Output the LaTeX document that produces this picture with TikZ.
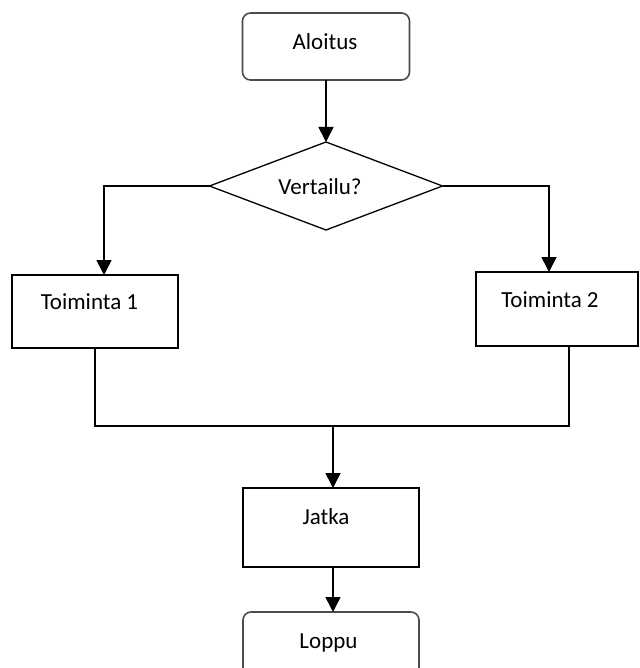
\documentclass[tikz,border=0pt]{standalone}
\usepackage{fontspec}
\setmainfont{Carlito}
\usetikzlibrary{shapes.geometric,arrows.meta}
\begin{document}
\begin{tikzpicture}[x=1pt,y=-1pt,
  every node/.style={inner sep=0pt,outer sep=0pt},
  txt/.style={font=\fontsize{23}{27}\selectfont,anchor=base},
  rbox/.style={draw=black!70,line width=1.6pt,rounded corners=8pt,rectangle},
  sbox/.style={draw=black,line width=1.6pt,rectangle},
  dbox/.style={draw=black,line width=1.3pt,diamond},
  conn/.style={draw=black,line width=1.6pt},
  arr/.style={conn,-{Triangle[width=15pt,length=15pt]}}]
\useasboundingbox (0,0) rectangle (639,668);
\clip (0,0) rectangle (639,668);
\fill[white] (0,0) rectangle (639,668);
% shapes
\node[rbox,minimum width=167pt,minimum height=67pt] (alo) at (326,46.5) {};
\node[dbox,minimum width=233pt,minimum height=88pt] (dia) at (326,186) {};
\node[sbox,minimum width=166pt,minimum height=73pt] (t1) at (95,311.5) {};
\node[sbox,minimum width=162pt,minimum height=74pt] (t2) at (557,309) {};
\node[sbox,minimum width=176pt,minimum height=79pt] (jat) at (331,527.5) {};
\node[rbox,minimum width=176pt,minimum height=80pt] (lop) at (331,652) {};
% texts
\node[txt] (alotxt) at (325,50) {Aloitus};
\node[txt] (diatxt) at (320,195) {Vertailu?};
\node[txt] (t1txt) at (89.5,309) {Toiminta 1};
\node[txt] (t2txt) at (550,307) {Toiminta 2};
\node[txt] (jattxt) at (326,524) {Jatka};
\node[txt] (loptxt) at (328.5,648) {Loppu};
% connectors
\coordinate (j) at (333,426);
\draw[arr] (alo.south) -- (dia.north);
\draw[arr] (dia.west) -| ([xshift=9pt]t1.north);
\draw[arr] (dia.east) -| ([xshift=-8pt]t2.north);
\draw[conn] (t1.south) |- (j) -| ([xshift=12pt]t2.south);
\draw[arr] (j) -- (j |- jat.north);
\draw[arr] (j |- jat.south) -- (j |- lop.north);
\end{tikzpicture}
\end{document}
